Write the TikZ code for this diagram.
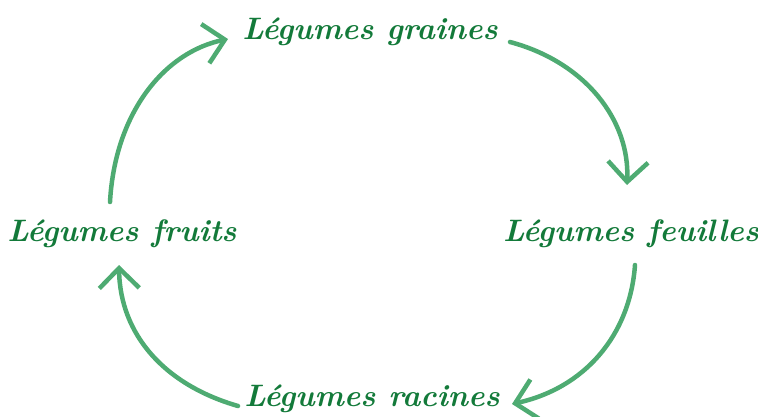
\documentclass[tikz,border=0pt]{standalone}
\usetikzlibrary{arrows.meta}
\definecolor{txtgreen}{HTML}{137A3A}
\definecolor{arrgreen}{HTML}{4EAB72}
\tikzset{
  label/.style={text=txtgreen, font=\fontsize{31}{36}\selectfont\bfseries\itshape, inner sep=0pt},
  cyc/.style={draw=arrgreen, line width=4.5pt, line cap=round, line join=round,
    -{Straight Barb[length=20pt,width=40pt,line width=4.5pt]}}
}
\begin{document}
\begin{tikzpicture}[x=1pt,y=-1pt]
\useasboundingbox (0,0) rectangle (758,417);
\node[label] (gr) at (370,32) {Légumes graines};
\node[label] (fe) at (631,234) {Légumes feuilles};
\node[label] (fr) at (122,234) {Légumes fruits};
\node[label] (ra) at (372,399) {Légumes racines};
\coordinate (a1s) at (510,42);  \coordinate (a1e) at (627,185);
\coordinate (a2s) at (635,265); \coordinate (a2e) at (512,404);
\coordinate (a3s) at (238,406); \coordinate (a3e) at (119,265);
\coordinate (a4s) at (110,202); \coordinate (a4e) at (228,39);
\draw[cyc] (a1s) .. controls (585,62) and (630,120) .. (a1e);
\draw[cyc] (a2s) .. controls (630,335) and (585,388) .. (a2e);
\draw[cyc] (a3s) .. controls (165,385) and (120,335) .. (a3e);
\draw[cyc] (a4s) .. controls (115,112) and (165,52) .. (a4e);
\end{tikzpicture}
\end{document}
